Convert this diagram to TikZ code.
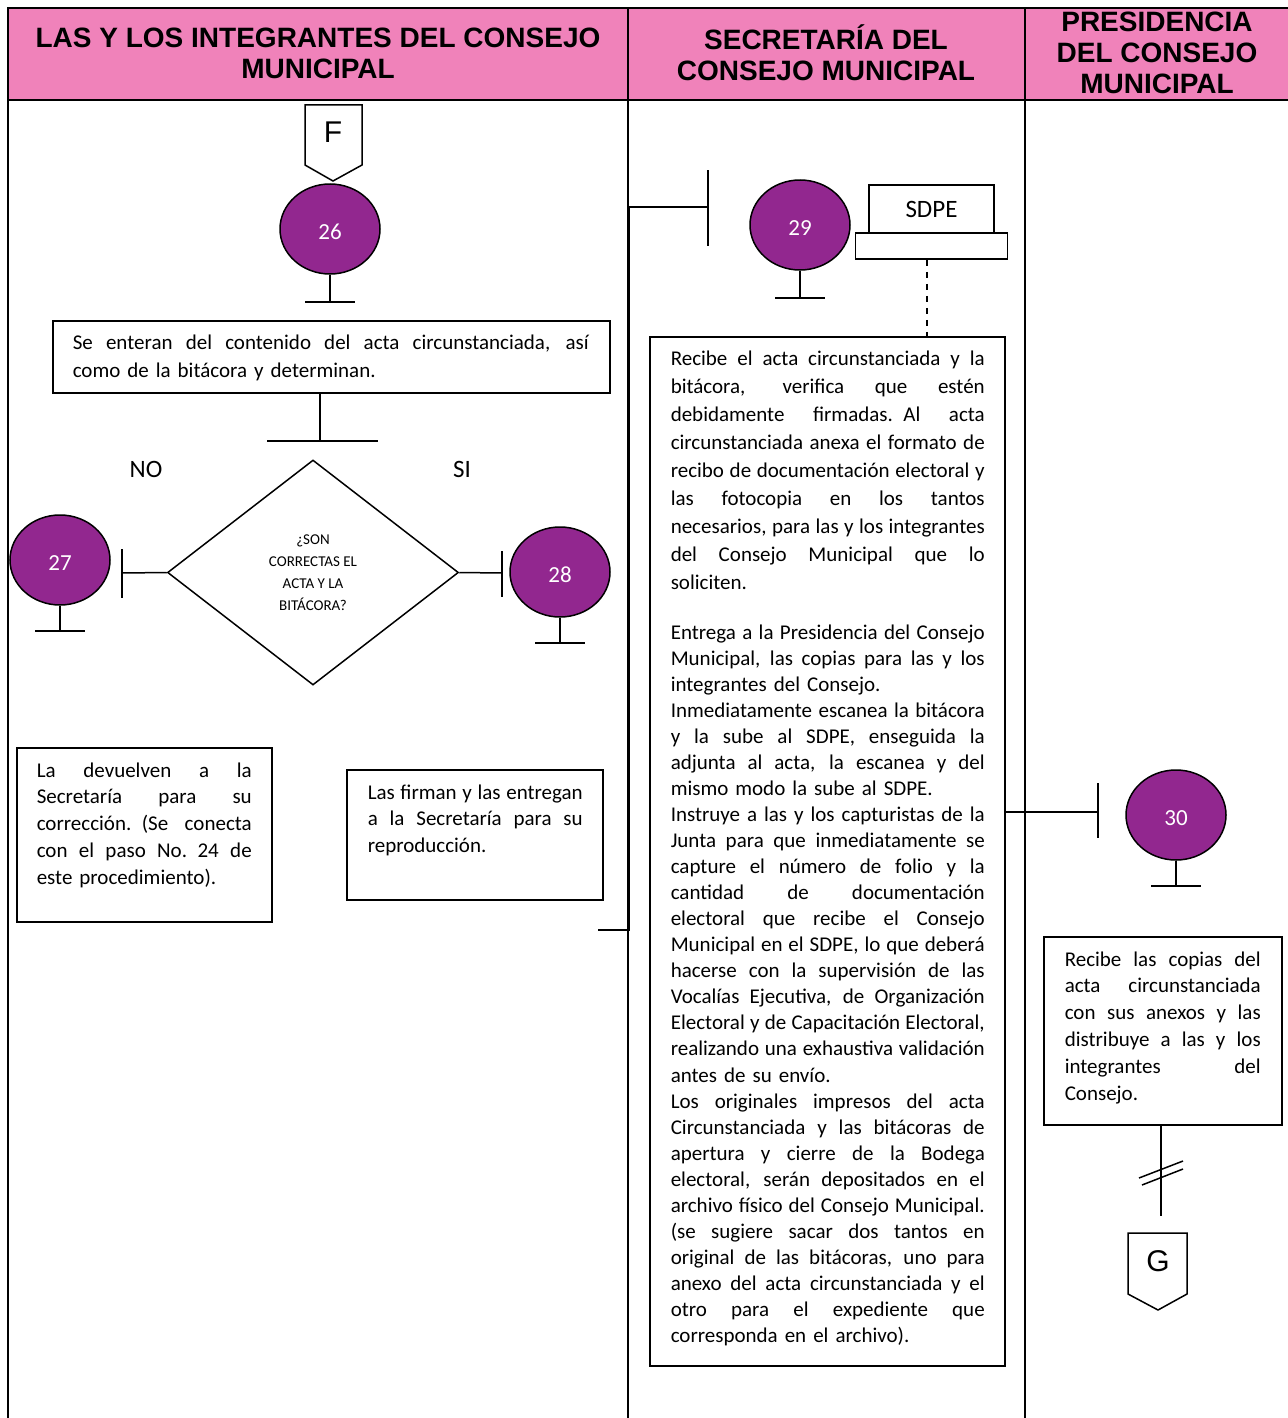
\documentclass[tikz,border=0pt]{standalone}
\usepackage{fontspec}
\setmainfont{Carlito}
\newfontfamily\hdrfont{Liberation Sans}
\usetikzlibrary{shapes.geometric}
\definecolor{encabezado}{RGB}{240,130,186}
\definecolor{morado}{RGB}{146,39,143}
\newcommand\jl[1]{\leavevmode\hbox to \hsize{\spaceskip=\fontdimen2\font plus 1fil minus \fontdimen4\font\relax#1}}
\begin{document}
\begin{tikzpicture}[x=0.5pt,y=-0.5pt,line width=0.75pt,
    paso/.style={ellipse,draw,fill=morado,text=white,minimum width=50pt,minimum height=45pt,inner sep=0pt,
      text height=10.3pt,text depth=0pt,font=\fontsize{11.5}{13}\selectfont},
    caja/.style={draw,anchor=north west,inner sep=0pt},
    texto/.style={anchor=base west,inner sep=0pt,align=left},
    titulo/.style={align=center,font=\hdrfont\bfseries\fontsize{14}{15.5}\selectfont},
    letra/.style={font=\hdrfont\fontsize{15}{17}\selectfont}]
  \useasboundingbox (0,0) rectangle (1288,1418);
  % encabezado y carriles
  \fill[encabezado] (8,8) rectangle (1288,100);
  \draw (8,1418) -- (8,8) -- (1288,8);
  \draw (8,100) -- (1288,100);
  \draw (628,8) -- (628,1418);
  \draw (1025,8) -- (1025,1418);
  \node[titulo] (h1) at (318,53.5) {LAS Y LOS INTEGRANTES DEL CONSEJO\\MUNICIPAL};
  \node[titulo] (h2) at (826,53) {SECRETARÍA DEL\\CONSEJO MUNICIPAL};
  \node[titulo] (h3) at (1157,53) {PRESIDENCIA\\DEL CONSEJO\\MUNICIPAL};
  % conector F
  \node[letra] (F) at (333,132) {F};
  \draw (305,105) -- (362,105) -- (362,165) -- (333,181) -- (305,165) -- cycle;
  % paso 26
  \node[paso] (26) at (330,229) {26};
  \draw (26.south) -- ++(0,27) ++(-25,0) -- ++(50,0);
  \node[caja,minimum width=278.5pt,minimum height=36pt] (b26) at (52,320) {};
  \node[texto,text width=258pt,font=\fontsize{10.5}{14}\selectfont] (t26) at (72,349)
    {\jl{Se enteran del contenido del acta circunstanciada, así}\\como de la bitácora y determinan.};
  \draw (b26.south -| 320,0) -- (320,441);
  \draw (267,441) -- (378,441);
  % decision
  \node[diamond,draw,minimum width=145.5pt,minimum height=112.5pt,inner sep=0pt,align=center,
    font=\fontsize{7.5}{11}\selectfont] (d) at (313,572.5)
    {¿SON\\CORRECTAS EL\\ACTA Y LA\\BITÁCORA?};
  \node[font=\fontsize{12.5}{15}\selectfont] (no) at (146,469) {NO};
  \node[font=\fontsize{12.5}{15}\selectfont] (si) at (462,469) {SI};
  \coordinate (n27) at (122,573);
  \coordinate (n28) at (502,573);
  \draw (d.west) -- (n27);
  \draw (122,549) -- (122,598);
  \draw (d.east) -- (n28);
  \draw (502,551) -- (502,597);
  % paso 27
  \node[paso] (27) at (60,560) {27};
  \draw (27.south) -- ++(0,25) ++(-25,0) -- ++(50,0);
  \node[caja,minimum width=127.5pt,minimum height=87pt] (b27) at (16,747) {};
  \node[texto,text width=107.5pt,font=\fontsize{10.5}{13.4}\selectfont] (t27) at (36,777)
    {\jl{La devuelven a la}\\\jl{Secretaría para su}\\\jl{corrección. (Se conecta}\\\jl{con el paso No. 24 de}\\este procedimiento).};
  % paso 28
  \node[paso] (28) at (560,572) {28};
  \draw (28.south) -- ++(0,25) ++(-25,0) -- ++(50,0);
  \node[caja,minimum width=128pt,minimum height=65pt] (b28) at (346,769) {};
  \node[texto,text width=107.5pt,font=\fontsize{10.5}{13.25}\selectfont] (t28) at (367,799)
    {\jl{Las firman y las entregan}\\\jl{a la Secretaría para su}\\reproducción.};
  % conector hacia 29
  \coordinate (s28) at (598,930);
  \coordinate (n29) at (708,207);
  \draw (s28) -- (629,930) -- (629,207) -- (n29);
  \draw (708,170) -- (708,246);
  % paso 29
  \node[paso] (29) at (800,225) {29};
  \draw (29.south) -- ++(0,27) ++(-25,0) -- ++(50,0);
  \node[draw,minimum width=62.5pt,minimum height=24pt,inner sep=0pt,font=\fontsize{12.5}{15}\selectfont] (sdpe) at (931.5,209) {\raisebox{-1.5pt}{SDPE}};
  \node[draw,minimum width=76pt,minimum height=13pt,inner sep=0pt] (base) at (931.5,246) {};
  \node[caja,minimum width=177.5pt,minimum height=514.5pt] (b29) at (649,336) {};
  \draw[dashed] (base.south -| 927,0) -- (b29.north -| 927,0);
  \node[texto,text width=157pt,font=\fontsize{10.5}{14}\selectfont] (t29a) at (670,365)
    {\jl{Recibe el acta circunstanciada y la}\\
     \jl{bitácora, verifica que estén}\\
     \jl{debidamente firmadas. Al acta}\\
     \jl{circunstanciada anexa el formato de}\\
     \jl{recibo de documentación electoral y}\\
     \jl{las fotocopia en los tantos}\\
     \jl{necesarios, para las y los integrantes}\\
     \jl{del Consejo Municipal que lo}\\
     soliciten.};
  \node[texto,text width=157pt,font=\fontsize{10.5}{13.03}\selectfont] (t29b) at (670,639)
    {\jl{Entrega a la Presidencia del Consejo}\\
     \jl{Municipal, las copias para las y los}\\
     integrantes del Consejo.\\
     \jl{Inmediatamente escanea la bitácora}\\
     \jl{y la sube al SDPE, enseguida la}\\
     \jl{adjunta al acta, la escanea y del}\\
     mismo modo la sube al SDPE.\\
     \jl{Instruye a las y los capturistas de la}\\
     \jl{Junta para que inmediatamente se}\\
     \jl{capture el número de folio y la}\\
     \jl{cantidad de documentación}\\
     \jl{electoral que recibe el Consejo}\\
     \jl{Municipal en el SDPE, lo que deberá}\\
     \jl{hacerse con la supervisión de las}\\
     \jl{Vocalías Ejecutiva, de Organización}\\
     \jl{Electoral y de Capacitación Electoral,}\\
     \jl{realizando una exhaustiva validación}\\
     antes de su envío.\\
     \jl{Los originales impresos del acta}\\
     \jl{Circunstanciada y las bitácoras de}\\
     \jl{apertura y cierre de la Bodega}\\
     \jl{electoral, serán depositados en el}\\
     \jl{archivo físico del Consejo Municipal.}\\
     \jl{(se sugiere sacar dos tantos en}\\
     \jl{original de las bitácoras, uno para}\\
     \jl{anexo del acta circunstanciada y el}\\
     \jl{otro para el expediente que}\\
     corresponda en el archivo).};
  % conector hacia 30
  \coordinate (n30) at (1098,812);
  \draw (b29.east |- n30) -- (n30);
  \draw (1098,783) -- (1098,838);
  % paso 30
  \node[paso] (30) at (1176,815) {30};
  \draw (30.south) -- ++(0,25) ++(-25,0) -- ++(50,0);
  \node[caja,minimum width=119pt,minimum height=94pt] (b30) at (1043,936) {};
  \node[texto,text width=98pt,font=\fontsize{10.5}{13.4}\selectfont] (t30) at (1064,966)
    {\jl{Recibe las copias del}\\\jl{acta circunstanciada}\\\jl{con sus anexos y las}\\\jl{distribuye a las y los}\\\jl{integrantes del}\\Consejo.};
  % conector G
  \coordinate (g) at (1161,1216);
  \draw (b30.south -| g) -- (g);
  \draw (1139,1178) -- (1183,1161);
  \draw (1142,1185) -- (1183,1169);
  \node[letra] (G) at (1158,1261) {G};
  \draw (1128,1233) -- (1187,1233) -- (1187,1294) -- (1158,1310) -- (1128,1294) -- cycle;
\end{tikzpicture}
\end{document}
